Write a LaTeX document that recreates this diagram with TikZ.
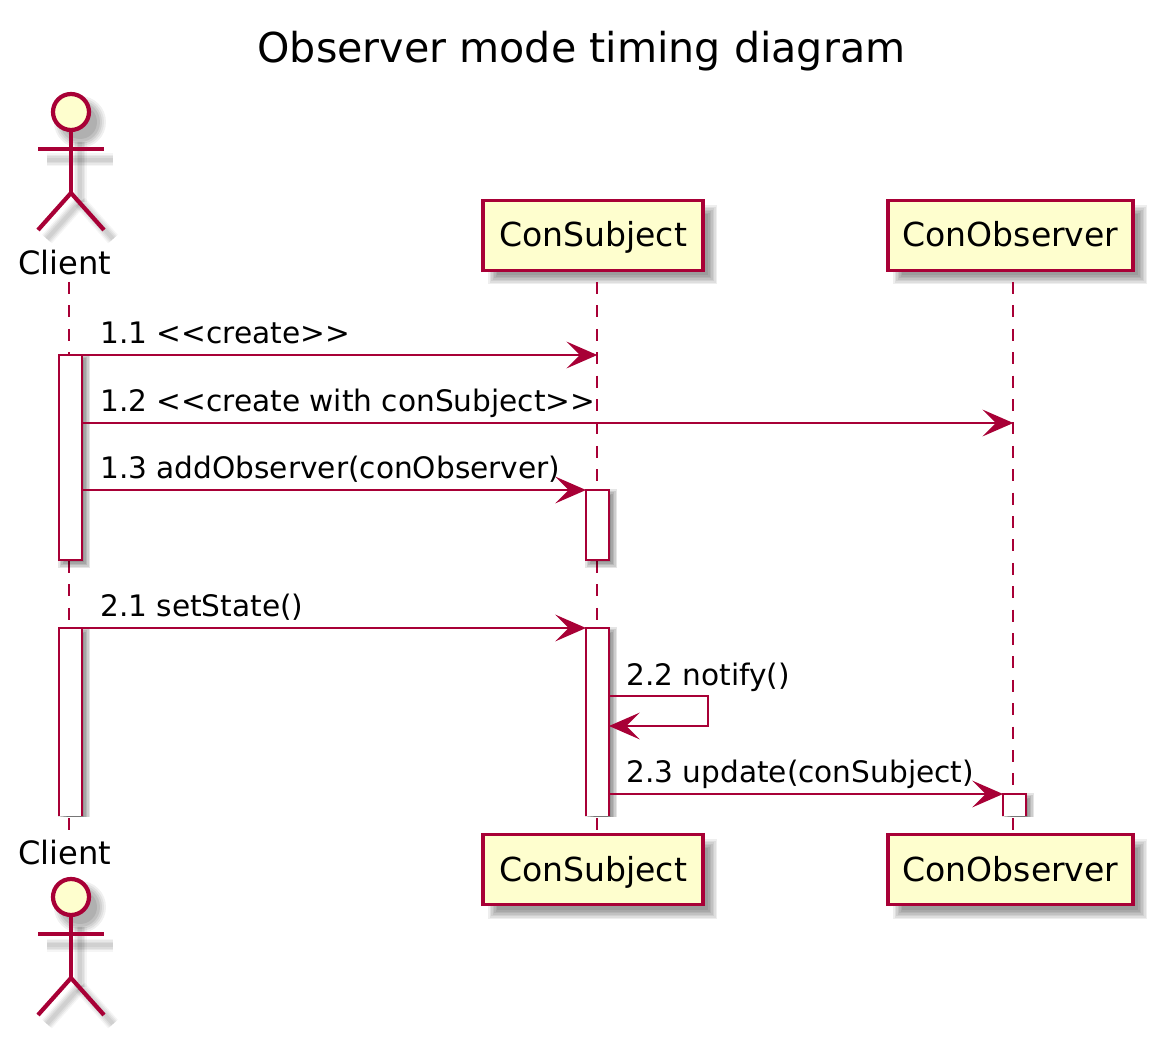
\documentclass[tikz,border=0pt]{standalone}
\usepackage{fontspec}
\setmainfont{DejaVu Sans}
\usetikzlibrary{arrows.meta}
\definecolor{umlred}{HTML}{A80036}
\definecolor{umlfill}{HTML}{FEFECE}
\newlength{\px}\setlength{\px}{0.75pt}
\tikzset{
  lifeline/.style={draw=umlred,line width=2.0\px,dash pattern=on 12\px off 11.4\px},
  msg/.style={draw=umlred,line width=2.8\px,-{Stealth[length=23pt,width=20pt,inset=10pt,fill=umlred]}},
  actline/.style={draw=umlred,line width=2.8\px},
  stick/.style={draw=umlred,line width=4.2\px,line cap=butt},
  headstyle/.style={draw=umlred,fill=umlfill,line width=4.2\px},
  partbox/.style={draw=umlred,fill=umlfill,line width=3.6\px,rectangle,minimum width=#1*\px,minimum height=70\px,inner sep=0pt,text height=18pt,text depth=0.75pt,font=\fontsize{24.8pt}{26pt}\selectfont,text=black},
  msgtext/.style={anchor=base west,inner sep=0pt,font=\fontsize{22.2pt}{26pt}\selectfont,text=black},
  actortext/.style={anchor=base,inner sep=0pt,font=\fontsize{24.1pt}{26pt}\selectfont,text=black},
  titletext/.style={anchor=base,inner sep=0pt,font=\fontsize{30.9pt}{32pt}\selectfont,text=black},
}
% blurred shadow of a rectangle: x1 y1 x2 y2 offset opacity-per-layer
\newcommand{\softrect}[6]{%
  \foreach \w in {4.5,3,1.5,0,-1.5,-3,-4.5}{
    \fill[black,opacity=#6] (#1+#5-\w,#2+#5-\w) rectangle (#3+#5+\w,#4+#5+\w);
  }
}
\newcommand{\softline}[4]{%
  \foreach \w/\o in {13/.04,10/.05,7/.05,4/.05}{
    \draw[black,opacity=\o,line width=\w\px] (#1,#2) -- (#3,#4);
  }
}
% actor at head centre (cx,cy)
\newcommand{\actorshadow}[2]{%
  \foreach \r/\o in {26/.06,24/.06,22/.07,20/.08,17/.08}{
    \fill[black,opacity=\o] (#1+9,#2+10) circle[radius=\r*\px];
  }
  \softline{#1-24}{#2+48}{#1+42}{#2+48}
  \softline{#1+9}{#2+30}{#1+9}{#2+90}
  \softline{#1+9}{#2+90}{#1-24}{#2+127}
  \softline{#1+9}{#2+90}{#1+42}{#2+127}
}
\newcommand{\actorbody}[2]{%
  \coordinate (neck) at (#1,#2+18);
  \coordinate (hip) at (#1,#2+81);
  \coordinate (arml) at (#1-33,#2+37);
  \coordinate (armr) at (#1+33,#2+37);
  \coordinate (legl) at (#1-33,#2+118);
  \coordinate (legr) at (#1+33,#2+118);
  \draw[stick] (neck) -- (hip);
  \draw[stick] (arml) -- (armr);
  \draw[stick] (legl) -- (hip) -- (legr);
  \draw[headstyle] (#1,#2) circle[radius=18*\px];
}
\begin{document}
\begin{tikzpicture}[x=0.75pt,y=-0.75pt]
\useasboundingbox (0,0) rectangle (1156,1037);
\fill[white] (0,0) rectangle (1156,1037);

\node[titletext] (title) at (581.5,62.6) {Observer mode timing diagram};

% actor figures
\actorshadow{71}{112}
\actorbody{71}{112}
\actorshadow{71}{897}
\actorbody{71}{897}
\node[actortext] (clientTop) at (65,275) {Client};
\node[actortext] (clientBot) at (65,864) {Client};

% participant boxes
\softrect{483}{200}{703}{270}{9.6}{.065}
\softrect{888}{200}{1133}{270}{9.6}{.065}
\softrect{483}{834}{703}{905}{9.6}{.065}
\softrect{888}{834}{1133}{905}{9.6}{.065}
\node[partbox=220] (subjT) at (593,235.5) {ConSubject};
\node[partbox=245] (obsT) at (1010.5,235.5) {ConObserver};
\node[partbox=220] (subjB) at (593,869.5) {ConSubject};
\node[partbox=245] (obsB) at (1010.5,869.5) {ConObserver};

% lifelines
\foreach \n/\lx/\ya/\yb/\yc/\yd/\ye/\yf in {c/69.3/282/355/561/628/818/830,s/597.3/282/490/561/628/818/830,o/1013.3/282/794/794/794/818/830}{
  \draw[lifeline] (\lx,\ya) -- (\lx,\yb);
  \draw[lifeline] (\lx,\yc) -- (\lx,\yd);
  \draw[lifeline] (\lx,\ye) -- (\lx,\yf);
}

% activation shadows
\softrect{59}{355}{82}{560}{3.5}{.1}
\softrect{586}{490}{609}{560}{3.5}{.1}
\begin{scope}
\clip (0,600) rectangle (1156,816);
\softrect{59}{628}{82}{840}{3.5}{.1}
\softrect{586}{628}{609}{840}{3.5}{.1}
\softrect{1003}{794}{1026}{840}{3.5}{.1}
\end{scope}

% activation bars
\draw[actline,fill=white] (59,355) coordinate (a1tl) rectangle (82,560) coordinate (a1br);
\draw[actline,fill=white] (586,490) coordinate (b1tl) rectangle (609,560) coordinate (b1br);
\fill[white] (59,628) rectangle (82,816);
\draw[actline] (59,816) -- (59,628) coordinate (a2tl) -- (82,628) coordinate (a2tr) -- (82,816);
\fill[white] (586,628) rectangle (609,816);
\draw[actline] (586,816) -- (586,628) coordinate (b2tl) -- (609,628) coordinate (b2tr) -- (609,816);
\fill[white] (1003,794) rectangle (1026,816);
\draw[actline] (1003,816) -- (1003,794) coordinate (o1tl) -- (1026,794) -- (1026,816);

% message anchors
\coordinate (m1a) at (82,355); \coordinate (m1b) at (597.3,355);
\coordinate (m2a) at (82,423); \coordinate (m2b) at (1013.3,423);
\coordinate (m3a) at (82,490); \coordinate (m3b) at (b1tl);
\coordinate (m4a) at (a2tr);   \coordinate (m4b) at (b2tl);
\coordinate (m5a) at (609,696); \coordinate (m5c) at (708,696); \coordinate (m5d) at (708,726); \coordinate (m5b) at (609,726);
\coordinate (m6a) at (609,794); \coordinate (m6b) at (o1tl);

\draw[msg] (m1a) -- (m1b);
\draw[msg] (m2a) -- (m2b);
\draw[msg] (m3a) -- (m3b);
\draw[msg] (m4a) -- (m4b);
\draw[msg] (m5a) -- (m5c) -- (m5d) -- (m5b);
\draw[msg] (m6a) -- (m6b);

\node[msgtext] (t1) at (100,343.7) {1.1 <{}<create>{}>};
\node[msgtext] (t2) at (100,411.7) {1.2 <{}<create with conSubject>{}>};
\node[msgtext] (t3) at (100,478.7) {1.3 addObserver(conObserver)};
\node[msgtext] (t4) at (100,616.7) {2.1 setState()};
\node[msgtext] (t5) at (626,685.7) {2.2 notify()};
\node[msgtext] (t6) at (626,782.7) {2.3 update(conSubject)};
\end{tikzpicture}
\end{document}
